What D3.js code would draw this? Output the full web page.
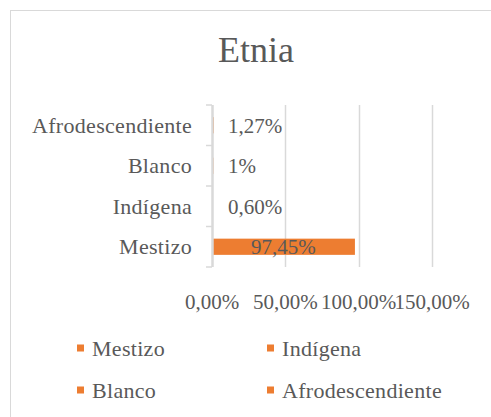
<!DOCTYPE html>
<html>
<head>
<meta charset="utf-8">
<script src="https://cdn.jsdelivr.net/npm/d3@7"></script>
<style>
  body { margin: 0; background: #fff; }
  svg text { font-family: "Liberation Serif", "Times New Roman", serif; fill: #595959; }
</style>
</head>
<body>
<div id="chart"></div>
<script>
// data
var categories = ["Mestizo", "Indígena", "Blanco", "Afrodescendiente"];
var values = [97.45, 0.60, 1, 1.27];
var valueLabels = ["97,45%", "0,60%", "1%", "1,27%"];
var xTicks = [0, 50, 100, 150];
var xTickLabels = ["0,00%", "50,00%", "100,00%", "150,00%"];
var title = "Etnia";

var W = 491, H = 417;
var barColor = "#ED7D31";

var svg = d3.select("#chart")
    .append("svg")
    .attr("width", W)
    .attr("height", H);

// chart border
svg.append("rect")
    .attr("x", 10.5).attr("y", 10.5)
    .attr("width", W + 20).attr("height", H + 20)
    .attr("fill", "#fff")
    .attr("stroke", "#d9d9d9");

svg.append("text")
    .attr("x", 256).attr("y", 62)
    .attr("text-anchor", "middle")
    .style("font-size", "36px")
    .text(title);

var x = d3.scaleLinear().domain([0, 150]).range([212, 432]);
var y = d3.scaleBand()
    .domain(categories.slice().reverse())
    .range([105, 267])
    .paddingInner(0.6).paddingOuter(0.3);

// gridlines
svg.selectAll("line.grid")
    .data(xTicks.slice(1))
    .enter().append("line")
    .attr("class", "grid")
    .attr("x1", function (d) { return Math.round(x(d)) + 0.5; })
    .attr("x2", function (d) { return Math.round(x(d)) + 0.5; })
    .attr("y1", 105).attr("y2", 267)
    .attr("stroke", "#d9d9d9")
    .attr("stroke-width", 1.5);

// bars
svg.selectAll("rect.bar")
    .data(categories)
    .enter().append("rect")
    .attr("class", "bar")
    .attr("x", x(0))
    .attr("y", function (d) { return y(d); })
    .attr("width", function (d, i) { return x(values[i]) - x(0); })
    .attr("height", y.bandwidth())
    .attr("fill", barColor);

// y axis line and ticks at band boundaries
var bandStep = (267 - 105) / categories.length;
svg.append("line")
    .attr("x1", x(0) + 0.5).attr("x2", x(0) + 0.5)
    .attr("y1", 105).attr("y2", 267)
    .attr("stroke", "#d9d9d9").attr("stroke-width", 2.5);
svg.selectAll("line.ytick")
    .data(d3.range(categories.length + 1))
    .enter().append("line")
    .attr("class", "ytick")
    .attr("x1", x(0) - 6).attr("x2", x(0))
    .attr("y1", function (i) { return 105 + i * bandStep; })
    .attr("y2", function (i) { return 105 + i * bandStep; })
    .attr("stroke", "#d9d9d9").attr("stroke-width", 1.5);

// category labels
svg.selectAll("text.cat")
    .data(categories)
    .enter().append("text")
    .attr("class", "cat")
    .attr("x", 192)
    .attr("y", function (d) { return y(d) + y.bandwidth() / 2; })
    .attr("dy", "0.35em")
    .attr("text-anchor", "end")
    .style("font-size", "22px")
    .style("letter-spacing", "0.3px")
    .text(function (d) { return d; });

// value labels
svg.selectAll("text.val")
    .data(categories)
    .enter().append("text")
    .attr("class", "val")
    .attr("x", function (d, i) {
        return values[i] > 20 ? (x(0) + x(values[i])) / 2 : x(0) + 16;
    })
    .attr("y", function (d) { return y(d) + y.bandwidth() / 2; })
    .attr("dy", "0.35em")
    .attr("text-anchor", function (d, i) { return values[i] > 20 ? "middle" : "start"; })
    .style("font-size", "21px")
    .text(function (d, i) { return valueLabels[i]; });

// x tick labels
svg.selectAll("text.xt")
    .data(xTicks)
    .enter().append("text")
    .attr("class", "xt")
    .attr("x", function (d) { return x(d); })
    .attr("y", 309)
    .attr("text-anchor", "middle")
    .style("font-size", "21px")
    .text(function (d, i) { return xTickLabels[i]; });

// legend
var legendPos = [[77, 348], [267, 348], [77, 390], [267, 390]];
var legend = svg.selectAll("g.leg")
    .data(categories)
    .enter().append("g")
    .attr("class", "leg")
    .attr("transform", function (d, i) {
        return "translate(" + legendPos[i][0] + "," + legendPos[i][1] + ")";
    });
legend.append("rect")
    .attr("x", 0).attr("y", -3.5)
    .attr("width", 7).attr("height", 7)
    .attr("fill", barColor);
legend.append("text")
    .attr("x", 15).attr("y", 0)
    .attr("dy", "0.35em")
    .style("font-size", "22px")
    .style("letter-spacing", "0.3px")
    .text(function (d) { return d; });
</script>
</body>
</html>
